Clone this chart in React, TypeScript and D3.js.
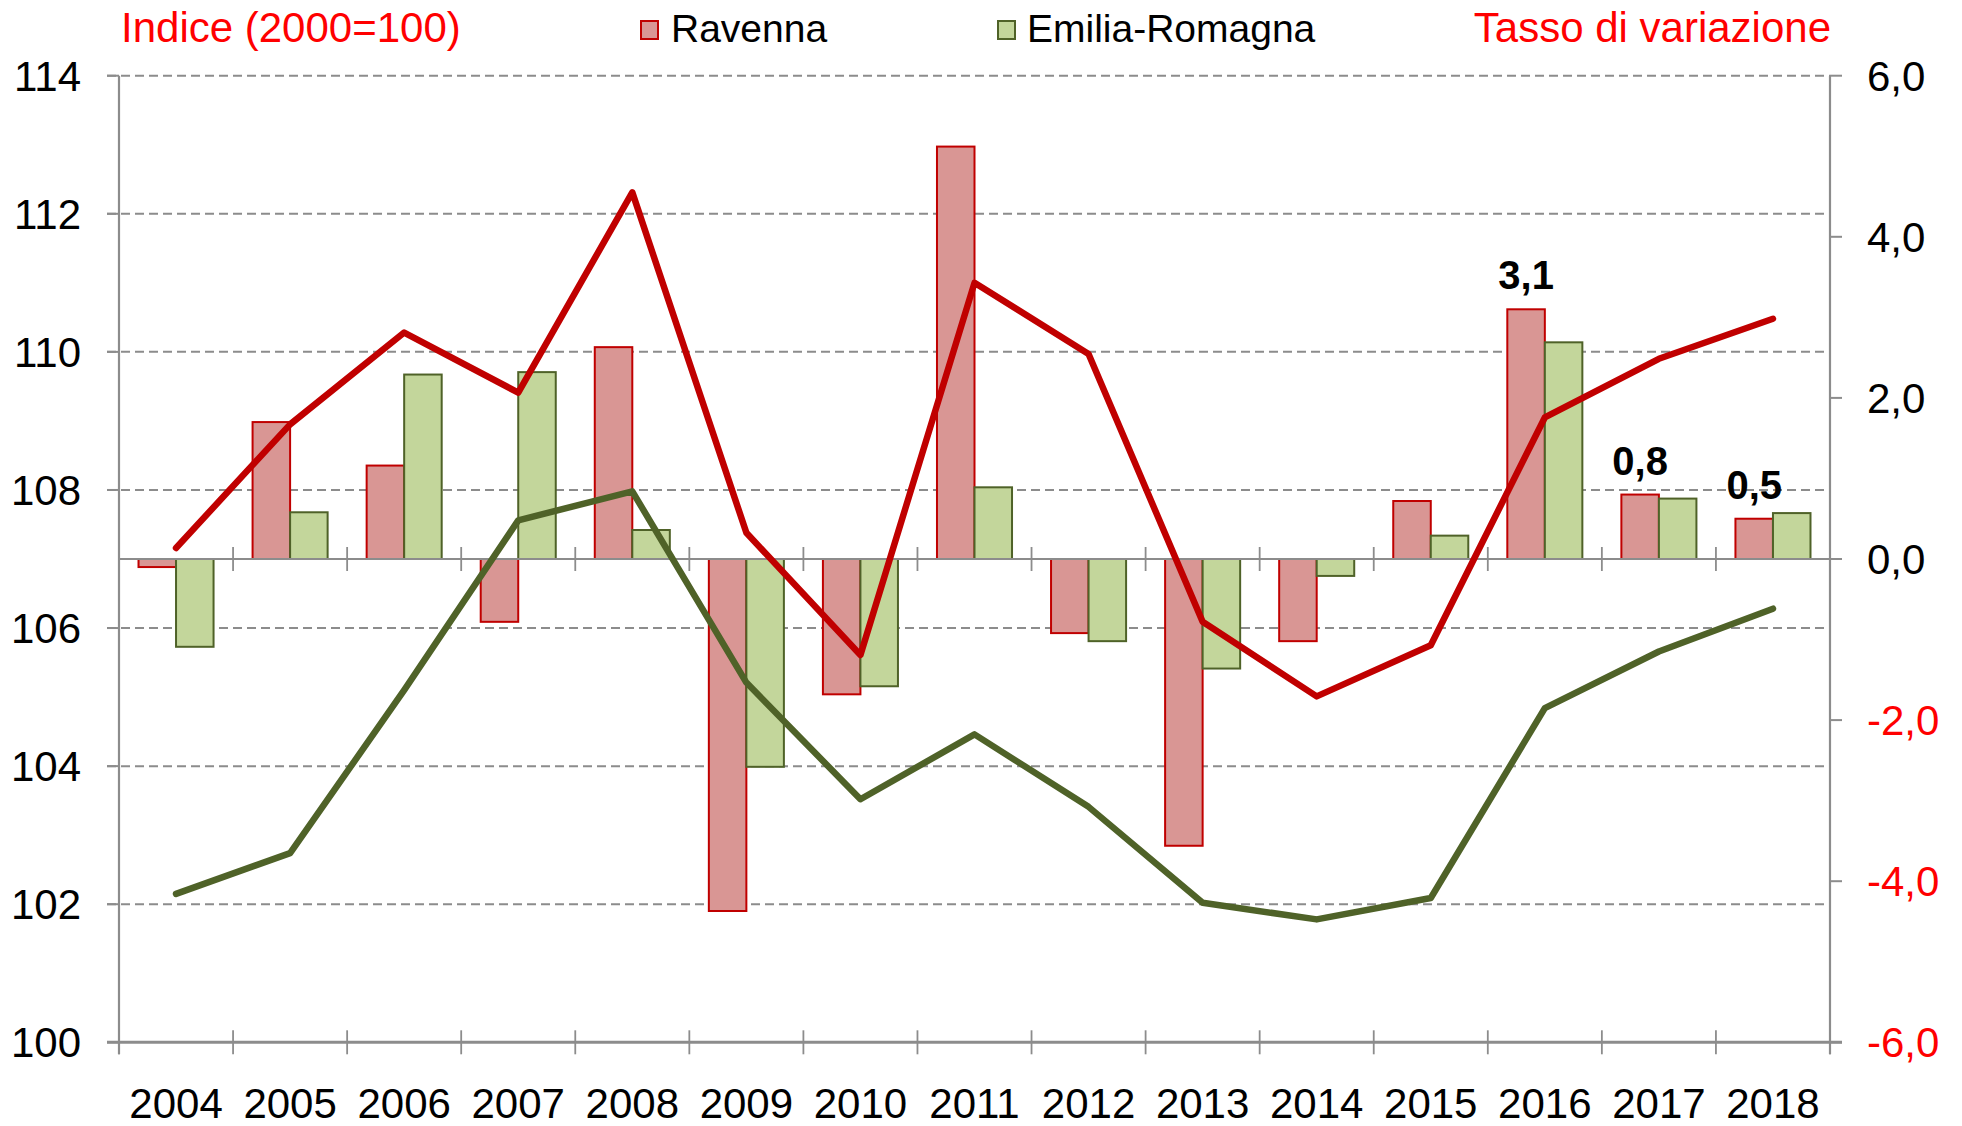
import React from "react";
import * as d3 from "d3";

const years = ["2004","2005","2006","2007","2008","2009","2010","2011","2012","2013","2014","2015","2016","2017","2018"];
const ravennaRate = [-0.1, 1.7, 1.16, -0.78, 2.63, -4.37, -1.68, 5.12, -0.92, -3.56, -1.02, 0.72, 3.1, 0.8, 0.5];
const emiliaRate = [-1.09, 0.58, 2.29, 2.32, 0.36, -2.58, -1.58, 0.89, -1.02, -1.36, -0.21, 0.29, 2.69, 0.75, 0.57];
const ravennaIndex = [107.16, 108.95, 110.28, 109.41, 112.31, 107.38, 105.61, 111.0, 109.97, 106.09, 105.01, 105.75, 109.05, 109.9, 110.48];
const emiliaIndex = [102.15, 102.74, 105.1, 107.56, 107.98, 105.21, 103.52, 104.46, 103.41, 102.02, 101.78, 102.09, 104.84, 105.66, 106.28];
const leftTicks = [100, 102, 104, 106, 108, 110, 112, 114];
const rightTicks = [-6, -4, -2, 0, 2, 4, 6];
const labeledYears = ["2016", "2017", "2018"];
const seriesNames = ["Ravenna", "Emilia-Romagna"];

const W = 1962, H = 1126;
const L = 119, R = 1830, T = 75.7, B = 1042.3;
const FONT = "'Liberation Sans', Arial, sans-serif";
const GRID = "#8c8c8c";
const RED_FILL = "#D99694", RED_LINE = "#C00000";
const GREEN_FILL = "#C3D69B", GREEN_LINE = "#4F6228";

export default function App() {
  const x = d3.scaleBand<string>().domain(years).range([L, R]).padding(0);
  const bw = x.bandwidth();
  const x1 = d3.scaleBand<string>().domain(seriesNames).range([0, bw]).paddingInner(0).paddingOuter(0.52);
  const yL = d3.scaleLinear().domain([100, 114]).range([B, T]);
  const yR = d3.scaleLinear().domain([-6, 6]).range([B, T]);
  const y0 = yR(0);

  const line = d3.line<number>()
    .x((_, i) => (x(years[i]) as number) + bw / 2)
    .y((d) => yL(d));

  const fmt = (v: number) => v.toFixed(1).replace(".", ",");
  const boundaries = d3.range(years.length + 1).map((i) => L + i * bw);

  const bars = (vals: number[], name: string, fill: string, stroke: string) =>
    vals.map((v, i) => {
      const bx = (x(years[i]) as number) + (x1(name) as number);
      const top = Math.min(yR(v), y0);
      const h = Math.abs(yR(v) - y0);
      return <rect key={name + i} x={bx} y={top} width={x1.bandwidth()} height={h} fill={fill} stroke={stroke} strokeWidth={2} />;
    });

  return (
    <svg width={W} height={H} style={{ position: "absolute", left: 0, top: 0, background: "#fff" }} fontFamily={FONT}>
      {leftTicks.filter((t) => t !== 100).map((t) => (
        <line key={"g" + t} x1={107} x2={R} y1={yL(t)} y2={yL(t)} stroke={GRID} strokeWidth={2} strokeDasharray="9,5" />
      ))}
      {leftTicks.map((t) => (
        <g key={"l" + t}>
          <line x1={107} x2={L} y1={yL(t)} y2={yL(t)} stroke={GRID} strokeWidth={2} />
          <text x={81} y={yL(t) + 15} fontSize={42} textAnchor="end" fill="#000">{t}</text>
        </g>
      ))}
      {rightTicks.map((t) => (
        <g key={"r" + t}>
          <line x1={R} x2={1842} y1={yR(t)} y2={yR(t)} stroke={GRID} strokeWidth={2} />
          <text x={1867} y={yR(t) + 15} fontSize={42} fill={t < 0 ? "#FF0000" : "#000"}>{fmt(t)}</text>
        </g>
      ))}
      {bars(ravennaRate, "Ravenna", RED_FILL, RED_LINE)}
      {bars(emiliaRate, "Emilia-Romagna", GREEN_FILL, GREEN_LINE)}
      <line x1={L} x2={R} y1={y0} y2={y0} stroke={GRID} strokeWidth={2.2} />
      {boundaries.slice(1, -1).map((bx, i) => (
        <line key={"zt" + i} x1={bx} x2={bx} y1={y0 - 12} y2={y0 + 12} stroke={GRID} strokeWidth={1.8} />
      ))}
      <line x1={L} x2={L} y1={T} y2={B + 12} stroke={GRID} strokeWidth={2.2} />
      <line x1={R} x2={R} y1={T} y2={B + 12} stroke={GRID} strokeWidth={2.2} />
      <line x1={107} x2={1842} y1={B} y2={B} stroke={GRID} strokeWidth={3} />
      {boundaries.map((bx, i) => (
        <line key={"bt" + i} x1={bx} x2={bx} y1={B - 12} y2={B + 12} stroke={GRID} strokeWidth={1.8} />
      ))}
      <path d={line(emiliaIndex) || ""} fill="none" stroke={GREEN_LINE} strokeWidth={6.5} strokeLinejoin="round" strokeLinecap="round" />
      <path d={line(ravennaIndex) || ""} fill="none" stroke={RED_LINE} strokeWidth={6.5} strokeLinejoin="round" strokeLinecap="round" />
      {years.map((yr, i) =>
        labeledYears.includes(yr) ? (
          <text key={"dl" + yr} x={(x(yr) as number) + (x1("Ravenna") as number) + x1.bandwidth() / 2} y={yR(ravennaRate[i]) - 20}
            fontSize={40} fontWeight="bold" textAnchor="middle" fill="#000">{fmt(ravennaRate[i])}</text>
        ) : null
      )}
      {years.map((yr) => (
        <text key={"x" + yr} x={(x(yr) as number) + bw / 2} y={1118} fontSize={42} textAnchor="middle" fill="#000">{yr}</text>
      ))}
      <text x={121} y={42} fontSize={42} fill="#FF0000">Indice (2000=100)</text>
      <rect x={641} y={21} width={17} height={18} fill={RED_FILL} stroke={RED_LINE} strokeWidth={2} />
      <text x={671} y={42} fontSize={39} fill="#000">Ravenna</text>
      <rect x={998} y={21} width={17} height={18} fill={GREEN_FILL} stroke={GREEN_LINE} strokeWidth={2} />
      <text x={1027} y={42} fontSize={39} fill="#000">Emilia-Romagna</text>
      <text x={1831} y={42} fontSize={42} textAnchor="end" fill="#FF0000">Tasso di variazione</text>
    </svg>
  );
}
